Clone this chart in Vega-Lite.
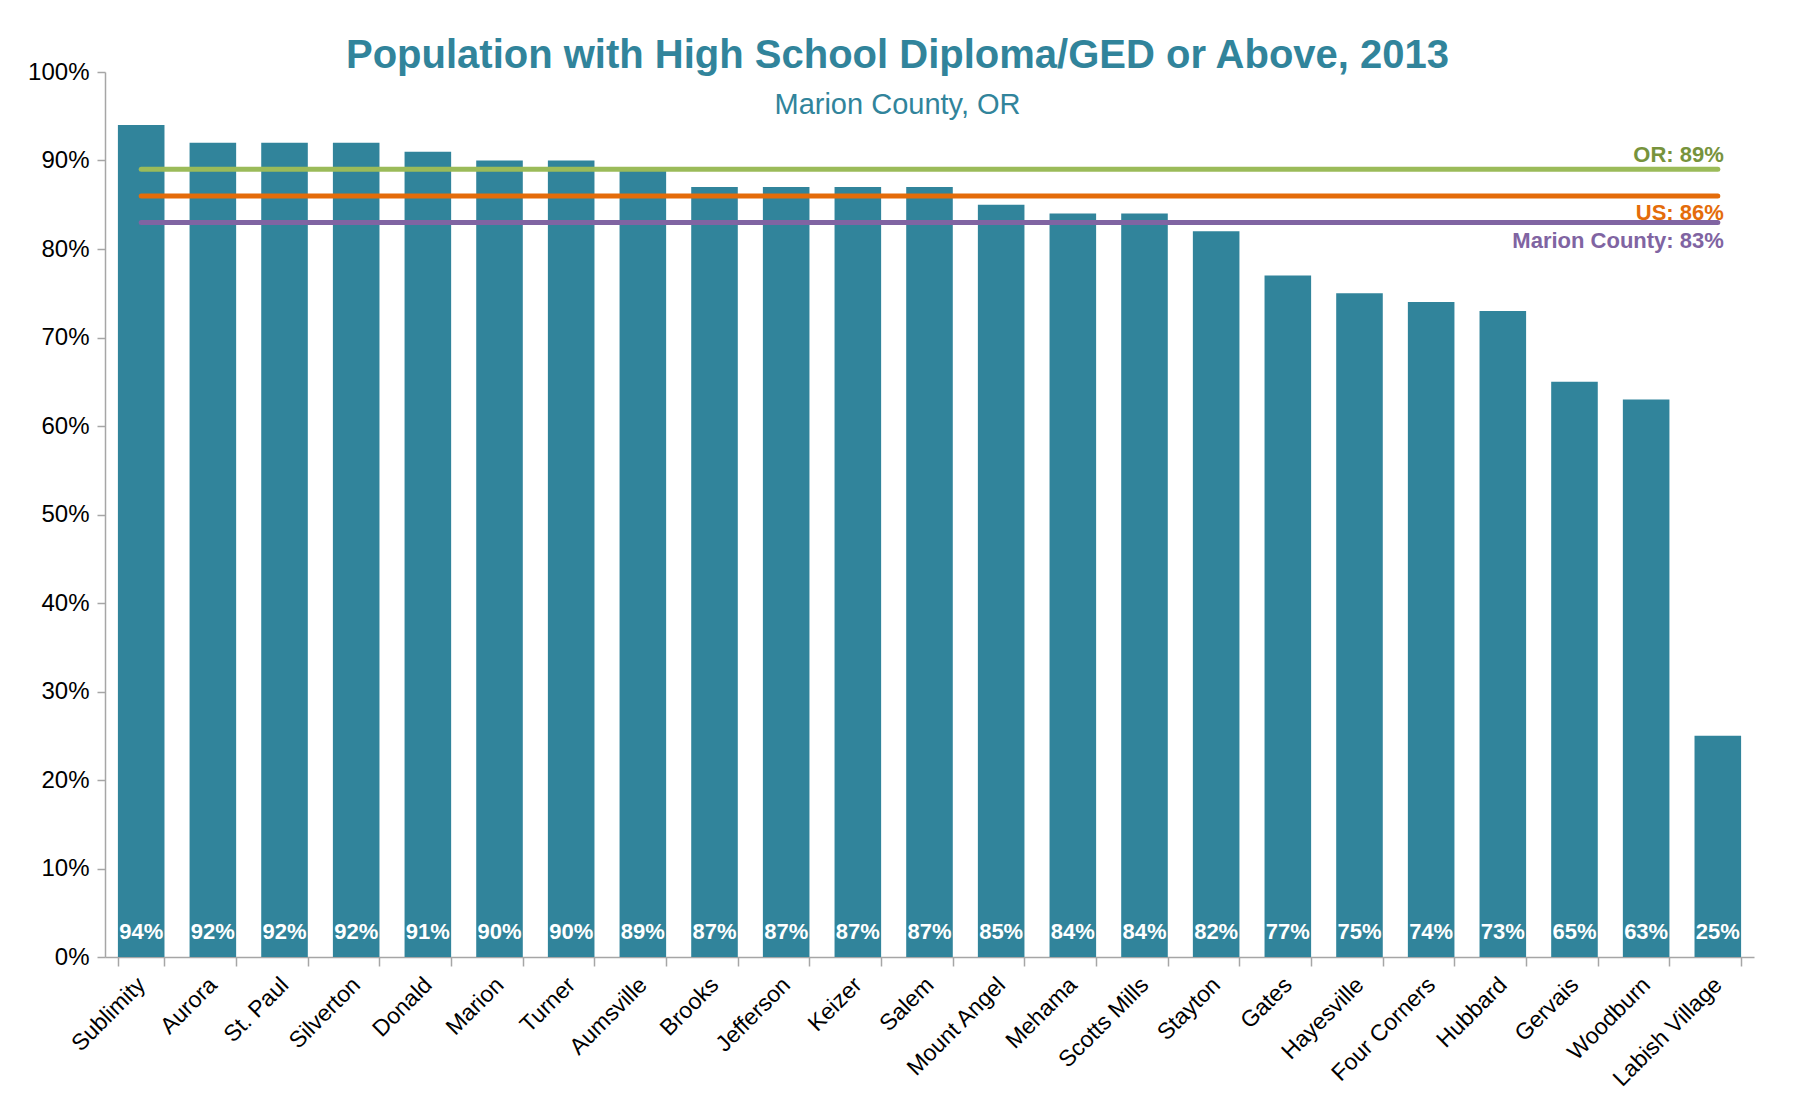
{
  "$schema": "https://vega.github.io/schema/vega-lite/v6.json",
  "width": 1649,
  "height": 885,
  "autosize": {"type": "none"},
  "padding": {"left": 105, "top": 72, "right": 40, "bottom": 148},
  "background": "white",
  "title": {
    "text": "Population with High School Diploma/GED or Above, 2013",
    "subtitle": "Marion County, OR",
    "font": "Liberation Sans",
    "fontSize": 40,
    "fontWeight": "bold",
    "color": "#31849B",
    "subtitleFont": "Liberation Sans",
    "subtitleFontSize": 29,
    "subtitleColor": "#31849B",
    "subtitlePadding": 15,
    "anchor": "middle",
    "dx": -32,
    "offset": -60
  },
  "datasets": {
    "towns": [
      {"town": "Sublimity", "pct": 0.94},
      {"town": "Aurora", "pct": 0.92},
      {"town": "St. Paul", "pct": 0.92},
      {"town": "Silverton", "pct": 0.92},
      {"town": "Donald", "pct": 0.91},
      {"town": "Marion", "pct": 0.90},
      {"town": "Turner", "pct": 0.90},
      {"town": "Aumsville", "pct": 0.89},
      {"town": "Brooks", "pct": 0.87},
      {"town": "Jefferson", "pct": 0.87},
      {"town": "Keizer", "pct": 0.87},
      {"town": "Salem", "pct": 0.87},
      {"town": "Mount Angel", "pct": 0.85},
      {"town": "Mehama", "pct": 0.84},
      {"town": "Scotts Mills", "pct": 0.84},
      {"town": "Stayton", "pct": 0.82},
      {"town": "Gates", "pct": 0.77},
      {"town": "Hayesville", "pct": 0.75},
      {"town": "Four Corners", "pct": 0.74},
      {"town": "Hubbard", "pct": 0.73},
      {"town": "Gervais", "pct": 0.65},
      {"town": "Woodburn", "pct": 0.63},
      {"town": "Labish Village", "pct": 0.25}
    ],
    "refs": [
      {"ref": "OR", "label": "OR: 89%", "from": "Sublimity", "to": "Labish Village", "pct": 0.89},
      {"ref": "US", "label": "US: 86%", "from": "Sublimity", "to": "Labish Village", "pct": 0.86},
      {"ref": "Marion County", "label": "Marion County: 83%", "from": "Sublimity", "to": "Labish Village", "pct": 0.83}
    ]
  },
  "config": {
    "view": {"stroke": null},
    "axis": {
      "labelFont": "Liberation Sans",
      "labelFontSize": 24,
      "labelColor": "#000000",
      "domainColor": "#A6A6A6",
      "domainWidth": 1.5,
      "tickColor": "#A6A6A6",
      "tickWidth": 1.5,
      "tickSize": 8,
      "grid": false,
      "title": null
    }
  },
  "layer": [
    {
      "data": {"name": "towns"},
      "mark": {"type": "bar", "color": "#31849B"},
      "encoding": {
        "x": {
          "field": "town",
          "type": "nominal",
          "sort": null,
          "scale": {
            "domain": ["Sublimity", "Aurora", "St. Paul", "Silverton", "Donald", "Marion", "Turner", "Aumsville", "Brooks", "Jefferson", "Keizer", "Salem", "Mount Angel", "Mehama", "Scotts Mills", "Stayton", "Gates", "Hayesville", "Four Corners", "Hubbard", "Gervais", "Woodburn", "Labish Village"],
            "paddingInner": 0.35,
            "paddingOuter": 0.18
          },
          "axis": {"labelAngle": -45, "labelAlign": "right", "labelBaseline": "middle", "tickBand": "extent", "tickSize": 9, "labelPadding": 15, "labelFontSize": 23}
        },
        "y": {
          "field": "pct",
          "type": "quantitative",
          "scale": {"domain": [0, 1]},
          "axis": {"format": ".0%", "values": [0, 0.1, 0.2, 0.3, 0.4, 0.5, 0.6, 0.7, 0.8, 0.9, 1.0], "labelPadding": 8}
        }
      }
    },
    {
      "data": {"name": "towns"},
      "mark": {"type": "text", "color": "white", "font": "Liberation Sans", "fontWeight": "bold", "fontSize": 22, "baseline": "alphabetic", "dy": -18},
      "encoding": {
        "x": {"field": "town", "type": "nominal", "sort": null},
        "y": {"datum": 0, "type": "quantitative"},
        "text": {"field": "pct", "type": "quantitative", "format": ".0%"}
      }
    },
    {
      "data": {"name": "refs"},
      "mark": {"type": "rule", "strokeWidth": 5, "strokeCap": "round"},
      "encoding": {
        "x": {"field": "from", "type": "nominal", "sort": null},
        "x2": {"field": "to"},
        "y": {"field": "pct", "type": "quantitative"},
        "color": {"field": "ref", "type": "nominal", "scale": {"domain": ["OR", "US", "Marion County"], "range": ["#9BBB59", "#E46C0A", "#8064A2"]}, "legend": null}
      }
    },
    {
      "data": {"name": "refs"},
      "transform": [{"filter": "datum.ref == 'OR'"}],
      "mark": {"type": "text", "color": "#77933C", "font": "Liberation Sans", "fontWeight": "bold", "fontSize": 22, "align": "right", "baseline": "alphabetic", "dx": 6, "dy": -7},
      "encoding": {
        "x": {"field": "to", "type": "nominal", "sort": null},
        "y": {"field": "pct", "type": "quantitative"},
        "text": {"field": "label"}
      }
    },
    {
      "data": {"name": "refs"},
      "transform": [{"filter": "datum.ref == 'US'"}],
      "mark": {"type": "text", "color": "#E46C0A", "font": "Liberation Sans", "fontWeight": "bold", "fontSize": 22, "align": "right", "baseline": "alphabetic", "dx": 6, "dy": 24},
      "encoding": {
        "x": {"field": "to", "type": "nominal", "sort": null},
        "y": {"field": "pct", "type": "quantitative"},
        "text": {"field": "label"}
      }
    },
    {
      "data": {"name": "refs"},
      "transform": [{"filter": "datum.ref == 'Marion County'"}],
      "mark": {"type": "text", "color": "#8064A2", "font": "Liberation Sans", "fontWeight": "bold", "fontSize": 22, "align": "right", "baseline": "alphabetic", "dx": 6, "dy": 26},
      "encoding": {
        "x": {"field": "to", "type": "nominal", "sort": null},
        "y": {"field": "pct", "type": "quantitative"},
        "text": {"field": "label"}
      }
    }
  ]
}
